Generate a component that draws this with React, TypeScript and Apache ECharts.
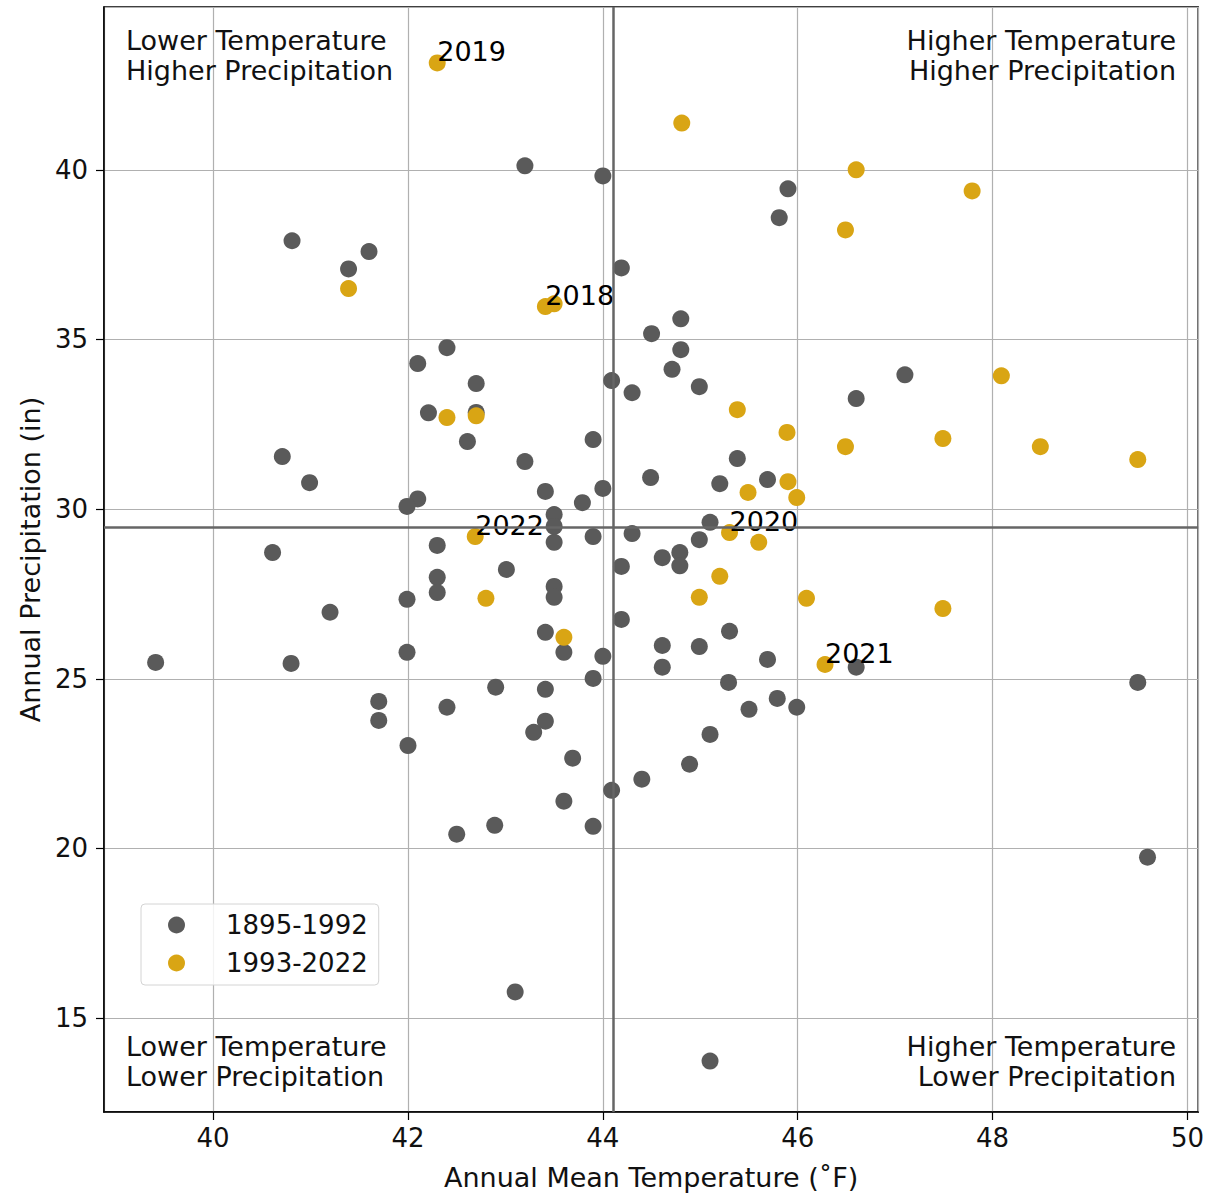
import React, { useEffect, useRef } from 'react';
import * as echarts from 'echarts';

const FONT = "'DejaVu Sans', sans-serif";

// 1895-1992 (gray)
const earlyTemp = [
  40.81, 41.6, 41.39, 42.4, 42.1, 43.2, 44.0, 45.9, 45.81, 44.19,
  44.8, 44.5, 44.8, 44.71, 44.09, 42.7, 44.99, 47.1, 42.21, 42.7,
  42.61, 40.71, 40.99, 42.1, 41.99, 40.61, 42.3, 42.3, 42.3, 41.99,
  41.2, 39.41, 40.8, 41.99, 41.7, 41.7, 42.4, 42.0, 44.3, 43.9,
  43.2, 45.38, 44.49, 45.69, 45.2, 43.41, 44.0, 43.79, 43.5, 43.5,
  43.5, 45.1, 43.9, 44.3, 44.99, 44.61, 44.79, 44.79, 44.19, 43.01,
  43.5, 43.5, 44.19, 43.41, 43.6, 45.3, 44.61, 44.99, 44.0, 44.61,
  45.69, 43.9, 42.9, 43.41, 45.29, 45.79, 45.99, 45.5, 43.41, 43.29,
  45.1, 43.69, 44.89, 44.4, 44.09, 43.6, 42.89, 43.9, 42.5, 43.1,
  45.1, 49.59, 46.6, 46.6, 49.49,
];
const earlyPrecip = [
  37.91, 37.59, 37.08, 34.76, 34.29, 40.12, 39.82, 39.44, 38.59, 37.11,
  35.61, 35.17, 34.7, 34.12, 33.79, 33.7, 33.61, 33.96, 32.84, 32.85,
  31.99, 31.55, 30.78, 30.3, 30.08, 28.72, 28.93, 27.99, 27.54, 27.34,
  26.96, 25.48, 25.45, 25.78, 24.33, 23.77, 24.16, 23.03, 33.43, 32.05,
  31.4, 31.49, 30.93, 30.87, 30.75, 30.52, 30.61, 30.19, 29.84, 29.49,
  29.02, 29.61, 29.19, 29.28, 29.1, 28.57, 28.72, 28.33, 28.31, 28.22,
  27.72, 27.4, 26.75, 26.37, 25.78, 26.4, 25.98, 25.95, 25.66, 25.34,
  25.57, 25.01, 24.75, 24.69, 24.89, 24.42, 24.16, 24.1, 23.75, 23.42,
  23.36, 22.66, 22.48, 22.04, 21.71, 21.39, 20.68, 20.65, 20.42, 15.77,
  13.73, 19.74, 33.26, 25.34, 24.89,
];

// 1993-2022 (gold), unlabelled years
const recentTemp = [
  44.81, 46.6, 47.79, 46.49, 41.39, 43.5, 48.09, 42.4, 42.7, 45.38,
  45.89, 47.49, 46.49, 48.49, 49.49, 45.9, 45.49, 45.99, 45.6, 45.2,
  42.8, 44.99, 46.09, 47.49, 43.6,
];
const recentPrecip = [
  41.38, 40.0, 39.38, 38.23, 36.5, 36.05, 33.93, 32.7, 32.75, 32.93,
  32.26, 32.08, 31.84, 31.84, 31.46, 30.81, 30.49, 30.34, 29.02, 28.02,
  27.37, 27.4, 27.37, 27.07, 26.22,
];

// labelled recent years
const labelYears = ['2019', '2018', '2022', '2020', '2021'];
const labelTemp = [42.3, 43.41, 42.69, 45.3, 46.28];
const labelPrecip = [43.15, 35.97, 29.19, 29.31, 25.42];

// period means (reference lines)
const meanTemp = 44.11;
const meanPrecip = 29.47;

const seriesNames = ['1895-1992', '1993-2022'];
const quadrantTexts = [
  'Lower Temperature\nHigher Precipitation',
  'Higher Temperature\nHigher Precipitation',
  'Lower Temperature\nLower Precipitation',
  'Higher Temperature\nLower Precipitation',
];

const GRAY = '#5a5a5a';
const GOLD = '#d9a514';
const FS = 27;

export default function App() {
  const ref = useRef<HTMLDivElement>(null);

  useEffect(() => {
    if (!ref.current) return;
    const chart = echarts.init(ref.current, null, { renderer: 'svg' });

    const earlyData = earlyTemp.map((t, i) => [t, earlyPrecip[i]]);
    const recentData: any[] = recentTemp.map((t, i) => [t, recentPrecip[i]]);
    labelYears.forEach((y, i) => {
      recentData.push({
        value: [labelTemp[i], labelPrecip[i]],
        label: {
          show: true,
          formatter: y,
          position: [8.5, 11],
          align: 'left',
          verticalAlign: 'bottom',
          color: '#000',
          fontSize: FS,
          fontFamily: FONT,
        },
      });
    });

    const textStyle = {
      fontSize: FS,
      fontFamily: FONT,
      fill: '#111',
      lineHeight: 30,
    };

    const option: any = {
      animation: false,
      backgroundColor: '#fff',
      textStyle: { fontFamily: FONT },
      grid: {
        left: 104,
        top: 7,
        right: 8,
        bottom: 83,
        show: true,
        borderColor: '#000',
        borderWidth: 1.5,
        backgroundColor: '#fff',
      },
      legend: {
        orient: 'vertical',
        left: 141,
        top: 904,
        padding: [6, 11, 7, 27],
        itemWidth: 17,
        itemHeight: 17,
        itemGap: 8,
        icon: 'circle',
        backgroundColor: 'rgba(255,255,255,0.85)',
        borderColor: '#d4d4d4',
        borderWidth: 1,
        borderRadius: 4,
        data: seriesNames,
        textStyle: {
          fontSize: 26,
          fontFamily: FONT,
          color: '#111',
          lineHeight: 30,
          padding: [0, 0, 0, 36],
        },
      },
      xAxis: {
        type: 'value',
        min: 38.88,
        max: 50.11,
        minInterval: 2,
        maxInterval: 2,
        splitNumber: 5,
        name: 'Annual Mean Temperature (˚F)',
        nameLocation: 'middle',
        nameGap: 52,
        nameTextStyle: { fontSize: FS, fontFamily: FONT, color: '#111' },
        axisLine: { show: true, onZero: false, lineStyle: { color: '#000', width: 1.5 } },
        axisTick: { show: true, length: 8, lineStyle: { color: '#000', width: 1.2 } },
        axisLabel: {
          fontSize: 26,
          fontFamily: FONT,
          color: '#111',
          margin: 13,
          showMinLabel: false,
          showMaxLabel: false,
        },
        splitLine: { show: true, lineStyle: { color: '#b0b0b0', width: 1.2 } },
      },
      yAxis: {
        type: 'value',
        min: 12.23,
        max: 44.8,
        minInterval: 5,
        maxInterval: 5,
        splitNumber: 6,
        name: 'Annual Precipitation (in)',
        nameLocation: 'middle',
        nameGap: 60,
        nameTextStyle: { fontSize: FS, fontFamily: FONT, color: '#111' },
        axisLine: { show: true, onZero: false, lineStyle: { color: '#000', width: 1.5 } },
        axisTick: { show: true, length: 8, lineStyle: { color: '#000', width: 1.2 } },
        axisLabel: {
          fontSize: 26,
          fontFamily: FONT,
          color: '#111',
          margin: 16,
          showMinLabel: false,
          showMaxLabel: false,
        },
        splitLine: { show: true, lineStyle: { color: '#b0b0b0', width: 1.2 } },
      },
      series: [
        {
          name: seriesNames[0],
          type: 'scatter',
          symbol: 'circle',
          symbolSize: 17,
          itemStyle: { color: GRAY, opacity: 1 },
          data: earlyData,
          z: 3,
          markLine: {
            silent: true,
            symbol: 'none',
            label: { show: false },
            lineStyle: { color: '#666', width: 2.5, type: 'solid' },
            data: [{ xAxis: meanTemp }, { yAxis: meanPrecip }],
          },
        },
        {
          name: seriesNames[1],
          type: 'scatter',
          symbol: 'circle',
          symbolSize: 17,
          itemStyle: { color: GOLD, opacity: 1 },
          data: recentData,
          z: 4,
        },
      ],
      graphic: [
        {
          type: 'text',
          x: 126,
          y: 25,
          z: 10,
          style: { ...textStyle, text: quadrantTexts[0], align: 'left', verticalAlign: 'top' },
        },
        {
          type: 'text',
          x: 1176,
          y: 25,
          z: 10,
          style: { ...textStyle, text: quadrantTexts[1], align: 'right', verticalAlign: 'top' },
        },
        {
          type: 'text',
          x: 126,
          y: 1031,
          z: 10,
          style: { ...textStyle, text: quadrantTexts[2], align: 'left', verticalAlign: 'top' },
        },
        {
          type: 'text',
          x: 1176,
          y: 1031,
          z: 10,
          style: { ...textStyle, text: quadrantTexts[3], align: 'right', verticalAlign: 'top' },
        },
      ],
    };

    chart.setOption(option);
    return () => chart.dispose();
  }, []);

  return (
    <div
      ref={ref}
      style={{ position: 'absolute', left: 0, top: 0, width: 1207, height: 1196, background: '#fff' }}
    />
  );
}
